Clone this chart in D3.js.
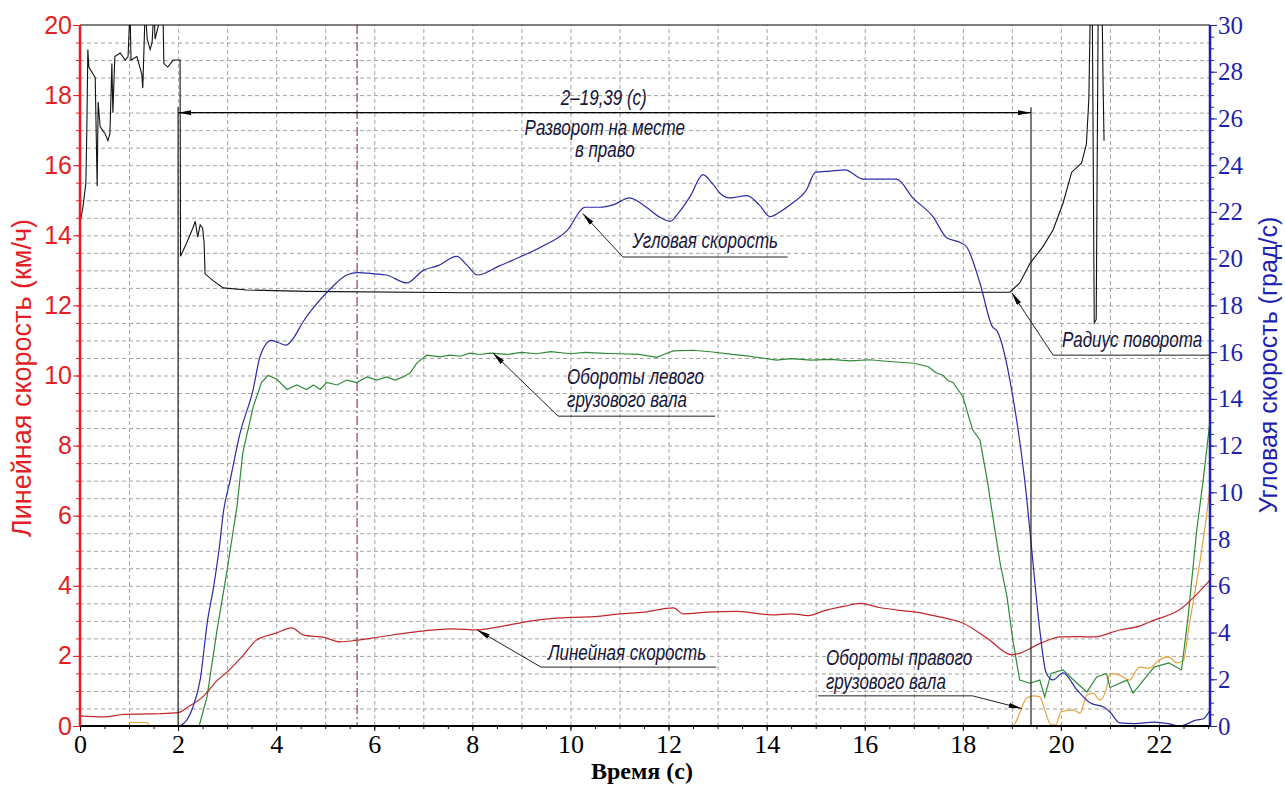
<!DOCTYPE html>
<html><head><meta charset="utf-8">
<script src="https://cdn.jsdelivr.net/npm/d3@7"></script>
<style>body{margin:0;background:#fff;}svg{display:block}</style>
</head><body><svg id="c" width="1285" height="785"></svg>
<script>
// ---------- data ----------
const xTicks = [0,2,4,6,8,10,12,14,16,18,20,22];
const leftTicks = [0,2,4,6,8,10,12,14,16,18,20];
const rightTicks = [0,2,4,6,8,10,12,14,16,18,20,22,24,26,28,30];

// Линейная скорость (км/ч, left axis)
const redT = [0,0.5,0.9,1.2,1.6,2.0,2.2,2.5,2.8,3.0,3.3,3.6,4.0,4.32,4.55,5.0,5.3,5.65,6.1,6.8,7.6,8.1,8.5,9.0,9.5,10.0,10.5,11.0,11.5,12.1,12.3,12.8,13.4,14.1,14.5,14.85,15.2,15.6,15.9,16.3,16.7,17.05,17.5,18.0,18.5,19.0,19.17,19.6,20.0,20.4,20.65,21.2,21.6,21.9,22.4,22.8,23.04];
const redV = [0.29,0.26,0.33,0.34,0.35,0.38,0.54,0.83,1.3,1.54,1.97,2.45,2.65,2.8,2.6,2.52,2.4,2.45,2.54,2.68,2.77,2.74,2.82,2.95,3.05,3.1,3.12,3.2,3.25,3.37,3.2,3.25,3.27,3.17,3.2,3.15,3.3,3.42,3.5,3.38,3.3,3.25,3.12,2.94,2.5,2.03,2.08,2.37,2.54,2.55,2.54,2.74,2.85,3.02,3.3,3.8,4.16];

// Угловая скорость (град/с, right axis)
const blueT = [0,1.0,2.0,2.18,2.3,2.45,2.6,2.72,2.85,2.92,3.06,3.26,3.53,3.67,3.9,4.05,4.2,4.35,4.55,4.76,5.1,5.44,5.67,6.0,6.25,6.66,7.0,7.3,7.68,7.9,8.1,8.56,8.97,9.4,9.93,10.3,10.6,10.87,11.2,11.55,11.8,12.03,12.2,12.45,12.7,12.9,13.05,13.25,13.6,13.85,14.07,14.27,14.54,14.8,15.0,15.3,15.6,15.97,16.3,16.65,16.98,17.39,17.67,17.94,18.08,18.35,18.6,18.7,19.02,19.3,19.43,19.57,19.7,19.84,20.04,20.33,20.6,20.87,21.0,21.2,21.5,21.9,22.2,22.43,22.77,22.9,23.04];
const blueV = [0,0,0,0.26,0.8,1.97,4.5,5.9,7.8,9.1,10.5,12.5,14.4,15.8,16.5,16.4,16.3,16.6,17.3,17.9,18.7,19.3,19.4,19.35,19.3,18.96,19.5,19.7,20.1,19.7,19.3,19.7,20.07,20.5,21.2,22.2,22.2,22.3,22.6,22.2,21.8,21.6,21.95,22.7,23.6,23.2,22.8,22.6,22.7,22.3,21.8,22.0,22.4,22.9,23.7,23.75,23.8,23.4,23.4,23.4,22.6,21.8,20.9,20.7,20.5,18.95,17.1,16.9,14.1,9.8,7.0,4.1,2.27,1.97,2.27,1.54,0.98,0.81,0.6,0.13,0.1,0.17,0.1,0.0,0.26,0.3,0.68];

// Обороты левого грузового вала (left axis scale)
const greenT = [0,2.43,2.59,2.79,3.0,3.06,3.2,3.32,3.53,3.7,3.83,4.01,4.22,4.42,4.62,4.76,4.9,5.03,5.24,5.44,5.64,5.85,6.05,6.26,6.42,6.59,6.73,6.87,7.07,7.34,7.54,7.75,7.95,8.15,8.36,8.7,9.0,9.3,9.6,10.0,10.3,10.7,11.0,11.4,11.76,11.9,12.1,12.5,12.9,13.3,13.6,13.9,14.2,14.5,14.9,15.3,15.7,16.1,16.5,17.0,17.3,17.46,17.6,17.7,17.8,17.9,18.0,18.2,18.35,18.5,18.6,18.76,18.9,19.02,19.16,19.37,19.57,19.67,19.8,20.04,20.33,20.53,20.73,20.93,21.0,21.35,21.47,21.9,22.2,22.46,22.6,22.77,22.9,23.04];
const greenV = [0,0,0.83,2.7,4.45,5.0,6.25,7.8,9.1,9.8,10.0,9.9,9.6,9.73,9.6,9.73,9.6,9.8,9.73,9.87,9.8,9.96,9.87,9.96,9.87,9.96,10.07,10.36,10.58,10.53,10.58,10.55,10.64,10.6,10.64,10.6,10.66,10.62,10.68,10.62,10.66,10.63,10.62,10.6,10.52,10.6,10.7,10.72,10.67,10.6,10.56,10.5,10.44,10.48,10.44,10.46,10.42,10.45,10.4,10.35,10.25,10.07,10.0,9.85,9.8,9.6,9.4,8.45,8.16,7.0,6.08,4.65,3.7,2.45,1.31,1.22,1.31,0.83,1.5,1.6,1.22,0.97,1.4,1.5,1.1,1.31,0.94,1.68,1.8,1.6,3.2,5.6,7.0,8.7];

// Обороты правого грузового вала (left axis scale)
const orangeT = [0,0.98,1.03,1.37,1.42,19.02,19.16,19.3,19.45,19.57,19.67,19.8,19.9,20.0,20.25,20.39,20.53,20.65,20.8,20.93,21.0,21.2,21.4,21.6,21.8,22.0,22.2,22.36,22.5,22.6,22.83,22.97,23.04];
const orangeV = [0,0,0.1,0.1,0,0,0.37,0.8,0.86,0.83,0.46,0.03,0.03,0.4,0.46,0.37,0.88,0.94,0.74,1.08,1.5,1.45,1.31,1.68,1.65,1.88,1.97,1.8,1.88,2.74,4.65,6.0,6.8];

// Радиус поворота (left axis scale)
const blackT = [0,0.02,0.06,0.12,0.14,0.16,0.18,0.31,0.35,0.37,0.41,0.51,0.57,0.61,0.65,0.67,0.71,0.82,0.92,0.98,1.02,1.04,1.16,1.26,1.28,1.33,1.37,1.43,1.47,1.51,1.53,1.69,1.71,1.79,1.9,2.04,2.05,2.18,2.3,2.35,2.4,2.45,2.5,2.53,2.55,2.72,2.92,3.4,4.62,7.9,12,16,18.96,19.16,19.37,19.63,19.84,20.04,20.22,20.42,20.52,20.57,20.6,20.64,20.68,20.72,20.76,20.84,20.86,20.88];
const blackV = [14.4,14.5,14.8,15.5,17.1,19.3,18.8,18.5,15.4,17.8,17.1,16.9,16.7,16.9,18.9,17.5,19.1,19.2,19.0,19.1,20.5,19.0,19.1,18.6,18.2,20.5,19.6,19.3,19.5,20.5,19.6,20.5,18.9,18.8,19.0,19.0,13.4,13.8,14.2,14.4,13.95,14.3,14.2,13.8,12.9,12.7,12.5,12.44,12.4,12.36,12.36,12.36,12.38,12.64,13.2,13.67,14.15,14.9,15.8,16.06,16.6,17.9,20.5,20.5,11.5,11.6,20.5,20.5,18.3,16.7];

// annotations (time, left-axis value)
const markerTime = 5.65;
const intervalStart = 2, intervalEnd = 19.39, dimLevel = 17.5, dimTop = 17.65;
const leaders = [
  [[10.25,14.62],[11.07,13.38],[14.43,13.38]],
  [[8.42,10.64],[9.75,8.84],[12.95,8.84]],
  [[8.1,2.74],[9.4,1.68],[12.97,1.68]],
  [[19.0,12.36],[19.84,10.58],[23.04,10.58]],
  [[19.2,0.5],[18.2,0.86],[15.05,0.86]]
];
const notes = [
  {t:10.68,v:17.72,a:"middle",s:"2–19,39 (с)"},
  {t:10.7,v:16.86,a:"middle",s:"Разворот на месте"},
  {t:10.7,v:16.23,a:"middle",s:"в право"},
  {t:11.26,v:13.64,a:"start",s:"Угловая скорость"},
  {t:9.93,v:9.76,a:"start",s:"Обороты левого"},
  {t:9.93,v:9.1,a:"start",s:"грузового вала"},
  {t:9.54,v:1.88,a:"start",s:"Линейная скорость"},
  {t:20.02,v:10.81,a:"start",s:"Радиус поворота"},
  {t:15.21,v:1.74,a:"start",s:"Обороты правого"},
  {t:15.21,v:1.06,a:"start",s:"грузового вала"}
];

// ---------- drawing ----------
const svg = d3.select("#c");
const L = 80, R = 1210, T = 25, B = 726;
const x = d3.scaleLinear().domain([0,23.04]).range([L,R]);
const yL = d3.scaleLinear().domain([0,20]).range([B,T]);
const yR = d3.scaleLinear().domain([0,30]).range([B,T]);

svg.append("rect").attr("width",1285).attr("height",785).attr("fill","#fff");
const defs = svg.append("defs");
defs.append("clipPath").attr("id","clip").append("rect")
  .attr("x",L).attr("y",T).attr("width",R-L).attr("height",B-T);
defs.append("marker").attr("id","arr").attr("viewBox","0 0 13 5")
  .attr("refX",13).attr("refY",2.5).attr("markerWidth",13).attr("markerHeight",5)
  .attr("markerUnits","userSpaceOnUse").attr("orient","auto-start-reverse")
  .append("path").attr("d","M0,0L13,2.5L0,5Z").attr("fill","#000");

// grid
const grid = svg.append("g");
grid.append("g").call(d3.axisLeft(yL).tickValues(d3.range(0.5,20,0.5)).tickSize(-(R-L)).tickFormat(""))
  .attr("transform",`translate(${L},0)`)
  .call(g=>g.select(".domain").remove())
  .call(g=>g.selectAll("line").attr("stroke","#a3a3a3").attr("stroke-dasharray","4,3"));
grid.append("g").call(d3.axisBottom(x).tickValues(d3.range(1,23,1)).tickSize(-(B-T)).tickFormat(""))
  .attr("transform",`translate(0,${B})`)
  .call(g=>g.select(".domain").remove())
  .call(g=>g.selectAll("line").attr("stroke","#a3a3a3").attr("stroke-dasharray","4,3"));

// marker line (dash-dot)
svg.append("line").attr("x1",x(markerTime)).attr("x2",x(markerTime)).attr("y1",yL(20)).attr("y2",yL(0))
  .attr("stroke","#7a1a1a").attr("stroke-width",1).attr("stroke-dasharray","9,3,2,3");

// series
const plot = svg.append("g").attr("clip-path","url(#clip)");
const lineL = d3.line().x(d=>x(d[0])).y(d=>yL(d[1]));
const smoothL = d3.line().x(d=>x(d[0])).y(d=>yL(d[1])).curve(d3.curveMonotoneX);
const smoothR = d3.line().x(d=>x(d[0])).y(d=>yR(d[1])).curve(d3.curveMonotoneX);
const zip = (a,b)=>a.map((t,i)=>[t,b[i]]);
plot.append("path").datum(zip(orangeT,orangeV)).attr("d",smoothL).attr("fill","none").attr("stroke","#e8a23c").attr("stroke-width",1.2);
plot.append("path").datum(zip(blackT,blackV)).attr("d",lineL).attr("fill","none").attr("stroke","#111").attr("stroke-width",1.1);
plot.append("path").datum(zip(greenT,greenV)).attr("d",lineL).attr("fill","none").attr("stroke","#2e8a36").attr("stroke-width",1.2);
plot.append("path").datum(zip(redT,redV)).attr("d",smoothL).attr("fill","none").attr("stroke","#c1272d").attr("stroke-width",1.2);
plot.append("path").datum(zip(blueT,blueV)).attr("d",smoothR).attr("fill","none").attr("stroke","#2b2ba6").attr("stroke-width",1.2);

// annotations
const ann = svg.append("g");
[intervalStart, intervalEnd].forEach(t=>{
  ann.append("line").attr("x1",x(t)).attr("x2",x(t)).attr("y1",yL(0)).attr("y2",yL(dimTop))
    .attr("stroke","#222").attr("stroke-width",1.2);
});
ann.append("line").attr("x1",x(intervalStart)).attr("x2",x(intervalEnd)).attr("y1",yL(dimLevel)).attr("y2",yL(dimLevel))
  .attr("stroke","#000").attr("stroke-width",1.2)
  .attr("marker-start","url(#arr)").attr("marker-end","url(#arr)");
const lineA = d3.line().x(d=>x(d[0])).y(d=>yL(d[1]));
leaders.forEach(p=>{
  ann.append("path").attr("d",lineA(p)).attr("fill","none").attr("stroke","#222").attr("stroke-width",1)
    .attr("marker-start","url(#arr)");
});
ann.selectAll("text.note").data(notes).join("text").attr("class","note")
  .attr("transform",d=>`translate(${x(d.t)},${yL(d.v)}) scale(0.79,1)`)
  .attr("text-anchor",d=>d.a)
  .attr("font-family","'Liberation Sans',Arial,sans-serif")
  .attr("font-style","italic").attr("font-size",21.5).attr("fill","#14143a")
  .text(d=>d.s);

// axes
const axL = svg.append("g").attr("transform",`translate(${L},0)`);
axL.call(d3.axisLeft(yL).tickValues(d3.range(0,20.01,0.5)).tickSize(4).tickFormat(""))
  .call(g=>g.select(".domain").remove()).selectAll("line").attr("stroke","#e31e24");
const axL2 = svg.append("g").attr("transform",`translate(${L},0)`);
axL2.call(d3.axisLeft(yL).tickValues(leftTicks).tickSize(7).tickPadding(1))
  .call(g=>g.select(".domain").remove());
axL2.selectAll("line").attr("stroke","#e31e24");
axL2.selectAll("text").attr("fill","#e31e24").attr("font-family","'Liberation Sans',Arial,sans-serif").attr("font-size",25);

const axR = svg.append("g").attr("transform",`translate(${R},0)`);
axR.call(d3.axisRight(yR).tickValues(d3.range(0,30.01,0.5)).tickSize(4).tickFormat(""))
  .call(g=>g.select(".domain").remove()).selectAll("line").attr("stroke","#1f1fb0");
const axR2 = svg.append("g").attr("transform",`translate(${R},0)`);
axR2.call(d3.axisRight(yR).tickValues(rightTicks).tickSize(7).tickPadding(1))
  .call(g=>g.select(".domain").remove());
axR2.selectAll("line").attr("stroke","#1f1fb0");
axR2.selectAll("text").attr("fill","#1f1fb0").attr("font-family","'Liberation Serif','Times New Roman',serif").attr("font-size",25);

const axB = svg.append("g").attr("transform",`translate(0,${B})`);
axB.call(d3.axisBottom(x).tickValues(d3.range(0,23.01,0.5)).tickSize(3).tickFormat(""))
  .call(g=>g.select(".domain").remove()).selectAll("line").attr("stroke","#000");
const axB2 = svg.append("g").attr("transform",`translate(0,${B})`);
axB2.call(d3.axisBottom(x).tickValues(xTicks).tickSize(5))
  .call(g=>g.select(".domain").remove());
axB2.selectAll("text").attr("y",27).attr("dy",0).attr("fill","#000")
  .attr("font-family","'Liberation Serif','Times New Roman',serif").attr("font-size",26);

// frame lines
svg.append("line").attr("x1",L).attr("x2",R).attr("y1",T).attr("y2",T).attr("stroke","#000").attr("stroke-width",1.2);
svg.append("line").attr("x1",L).attr("x2",R).attr("y1",B).attr("y2",B).attr("stroke","#000").attr("stroke-width",2);
svg.append("line").attr("x1",L).attr("x2",L).attr("y1",T).attr("y2",B).attr("stroke","#e31e24").attr("stroke-width",2.5);
svg.append("line").attr("x1",R).attr("x2",R).attr("y1",T).attr("y2",B).attr("stroke","#1f1fb0").attr("stroke-width",2.5);

// titles
svg.append("text").attr("transform","translate(22,378) rotate(-90)").attr("text-anchor","middle")
  .attr("dominant-baseline","central").attr("fill","#e31e24")
  .attr("font-family","'Liberation Sans',Arial,sans-serif").attr("font-size",27)
  .text("Линейная скорость (км/ч)");
svg.append("text").attr("transform","translate(1268,365) rotate(-90)").attr("text-anchor","middle")
  .attr("dominant-baseline","central").attr("fill","#1f1fb0")
  .attr("font-family","'Liberation Sans',Arial,sans-serif").attr("font-size",25)
  .text("Угловая скорость (град/с)");
svg.append("text").attr("x",642).attr("y",779).attr("text-anchor","middle").attr("fill","#000")
  .attr("font-family","'Liberation Serif','Times New Roman',serif").attr("font-size",24).attr("font-weight","bold")
  .text("Время (с)");
</script>
</body></html>
